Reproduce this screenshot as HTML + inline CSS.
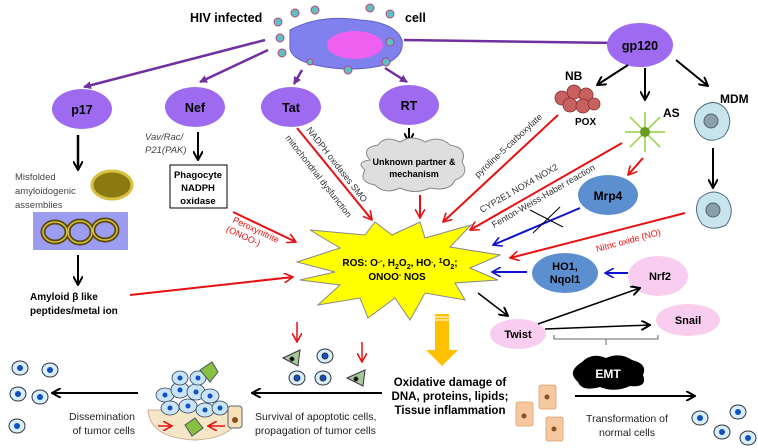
<!DOCTYPE html>
<html><head><meta charset="utf-8"><style>
html,body{margin:0;padding:0;background:#fff;}
svg{display:block;font-family:"Liberation Sans",Arial,sans-serif;}
.b{font-weight:bold;}
</style></head><body>
<svg width="758" height="448" viewBox="0 0 758 448" xmlns="http://www.w3.org/2000/svg">
<defs>
<marker id="ap" markerWidth="8" markerHeight="8" refX="7" refY="4" orient="auto" markerUnits="userSpaceOnUse"><path d="M0,0 L8,4 L0,8 z" fill="#7030a0"/></marker>
<marker id="ak" markerWidth="10" markerHeight="10" refX="9" refY="5" orient="auto" markerUnits="userSpaceOnUse"><path d="M0,0 L9,5 L0,10" fill="none" stroke="#000" stroke-width="2"/></marker>
<marker id="ar" markerWidth="10" markerHeight="10" refX="9" refY="5" orient="auto" markerUnits="userSpaceOnUse"><path d="M0,0 L9,5 L0,10" fill="none" stroke="#e81010" stroke-width="1.6"/></marker>
<marker id="ab" markerWidth="10" markerHeight="10" refX="9" refY="5" orient="auto" markerUnits="userSpaceOnUse"><path d="M0,0 L9,5 L0,10" fill="none" stroke="#1010d0" stroke-width="1.6"/></marker>
</defs>

<text x="190" y="22" class="b" font-size="12.5">HIV  infected</text>
<text x="405" y="22" class="b" font-size="12.5">cell</text>
<path d="M290,30 Q320,14 360,20 Q395,22 402,40 Q405,58 380,66 Q350,72 320,66 Q288,60 290,45 Z" fill="#8080ee" stroke="#6060c0"/>
<ellipse cx="355" cy="45" rx="28" ry="14" fill="#f060f0"/>
<g fill="#60c0c0" stroke="#c04080" stroke-width="1">
<circle cx="278" cy="22" r="4"/><circle cx="295" cy="13" r="4"/><circle cx="315" cy="10" r="4"/><circle cx="280" cy="38" r="4"/><circle cx="282" cy="53" r="4"/><circle cx="348" cy="70" r="4"/><circle cx="370" cy="8" r="4"/><circle cx="390" cy="14" r="4"/><circle cx="390" cy="42" r="4"/><circle cx="386" cy="62" r="4"/><circle cx="310" cy="62" r="3"/>
</g>

<g stroke="#7030a0" stroke-width="2.5" fill="none" marker-end="url(#ap)">
<line x1="265" y1="40" x2="84" y2="87"/>
<line x1="268" y1="50" x2="200" y2="82"/>
<line x1="302" y1="70" x2="294" y2="84"/>
<line x1="385" y1="68" x2="407" y2="82"/>
<line x1="404" y1="40" x2="617" y2="43"/>
</g>

<g fill="#9d6af0">
<ellipse cx="82" cy="109" rx="30" ry="20"/>
<ellipse cx="195" cy="107" rx="30" ry="20"/>
<ellipse cx="291" cy="107" rx="30" ry="20"/>
<ellipse cx="409" cy="105" rx="30" ry="20"/>
<ellipse cx="640" cy="45" rx="33" ry="22"/>
</g>
<g class="b" font-size="12.5" text-anchor="middle">
<text x="82" y="114">p17</text><text x="195" y="112">Nef</text><text x="291" y="112">Tat</text><text x="409" y="110">RT</text><text x="640" y="50">gp120</text>
</g>

<line x1="78" y1="135" x2="78" y2="170" stroke="#000" stroke-width="2.5" marker-end="url(#ak)"/>
<text font-size="9.5" fill="#444"><tspan x="15" y="180">Misfolded</tspan><tspan x="15" y="194">amyloidogenic</tspan><tspan x="15" y="208">assemblies</tspan></text>
<ellipse cx="112" cy="185" rx="20" ry="14" fill="#8a7a10" stroke="#d8c040" stroke-width="3"/>
<rect x="33" y="212" width="95" height="38" fill="#9c9cf0"/>
<g fill="none" stroke="#5a4a10" stroke-width="5"><ellipse cx="55" cy="232" rx="12" ry="10"/><ellipse cx="80" cy="232" rx="12" ry="11"/><ellipse cx="105" cy="230" rx="12" ry="10"/></g>
<g fill="none" stroke="#d8c040" stroke-width="1.5"><ellipse cx="55" cy="232" rx="12" ry="10"/><ellipse cx="80" cy="232" rx="12" ry="11"/><ellipse cx="105" cy="230" rx="12" ry="10"/></g>
<line x1="78" y1="255" x2="78" y2="285" stroke="#000" stroke-width="2" marker-end="url(#ak)"/>
<text class="b" font-size="10"><tspan x="30" y="300">Amyloid β like</tspan><tspan x="30" y="314">peptides/metal ion</tspan></text>
<line x1="130" y1="295" x2="293" y2="277" stroke="#e81010" stroke-width="2" marker-end="url(#ar)"/>

<text font-size="9.5" font-style="italic" fill="#444"><tspan x="145" y="140">Vav/Rac/</tspan><tspan x="145" y="153">P21(PAK)</tspan></text>
<line x1="198" y1="132" x2="198" y2="160" stroke="#000" stroke-width="2" marker-end="url(#ak)"/>
<rect x="170" y="165" width="57" height="43" fill="#fff" stroke="#000"/>
<text class="b" font-size="9.5" text-anchor="middle"><tspan x="198" y="178">Phagocyte</tspan><tspan x="198" y="191">NADPH</tspan><tspan x="198" y="204">oxidase</tspan></text>
<line x1="233" y1="212" x2="296" y2="242" stroke="#e81010" stroke-width="2" marker-end="url(#ar)"/>
<g transform="translate(232,222) rotate(25)"><text font-size="9" fill="#e81010"><tspan x="0" y="0">Peroxynitrite</tspan><tspan x="-2" y="11">(ONOO-)</tspan></text></g>

<line x1="297" y1="128" x2="372" y2="220" stroke="#e81010" stroke-width="2" marker-end="url(#ar)"/>
<g transform="translate(306,130) rotate(52)"><text font-size="9" fill="#333">NADPH oxidases  SMO</text></g>
<g transform="translate(285,138) rotate(52)"><text font-size="9" fill="#333">mitochondrial     dysfunction</text></g>

<line x1="409" y1="128" x2="409" y2="142" stroke="#000" stroke-width="2" marker-end="url(#ak)"/>
<path d="M370,160 Q360,148 378,145 Q385,135 400,142 Q412,134 425,142 Q440,135 450,145 Q468,148 462,162 Q470,175 455,180 Q450,192 430,188 Q415,195 400,188 Q385,195 375,185 Q358,182 365,170 Q355,162 370,160 Z" fill="#dedede" stroke="#888"/>
<text class="b" font-size="9" text-anchor="middle"><tspan x="414" y="165">Unknown partner &amp;</tspan><tspan x="414" y="177">mechanism</tspan></text>
<line x1="420" y1="195" x2="420" y2="218" stroke="#e81010" stroke-width="2" marker-end="url(#ar)"/>

<g stroke="#000" stroke-width="2" marker-end="url(#ak)">
<line x1="628" y1="65" x2="597" y2="85"/>
<line x1="645" y1="68" x2="645" y2="100"/>
<line x1="676" y1="60" x2="708" y2="86"/>
</g>
<text x="565" y="80" class="b" font-size="12">NB</text>
<g fill="#c86060" stroke="#803030" stroke-width="0.8">
<circle cx="562" cy="98" r="7"/><circle cx="574" cy="92" r="7"/><circle cx="586" cy="95" r="7"/><circle cx="570" cy="105" r="7"/><circle cx="583" cy="106" r="7"/><circle cx="594" cy="104" r="6"/>
</g>
<text x="575" y="125" class="b" font-size="10">POX</text>
<text x="663" y="117" class="b" font-size="12">AS</text>
<g stroke="#90d040" stroke-width="1.5"><line x1="625" y1="132" x2="665" y2="132"/><line x1="645" y1="112" x2="645" y2="152"/><line x1="630" y1="117" x2="660" y2="147"/><line x1="660" y1="117" x2="630" y2="147"/></g>
<circle cx="645" cy="132" r="5" fill="#6a9a20"/>
<text x="720" y="103" class="b" font-size="12">MDM</text>
<path d="M698,110 Q712,96 725,108 Q735,122 724,136 Q710,145 700,135 Q690,122 698,110 Z" fill="#c8e4ec" stroke="#507080"/>
<circle cx="711" cy="121" r="7" fill="#8aa0a8" stroke="#506070"/>
<line x1="713" y1="148" x2="713" y2="188" stroke="#000" stroke-width="2" marker-end="url(#ak)"/>
<path d="M700,198 Q714,186 727,198 Q736,212 726,225 Q712,232 702,224 Q692,210 700,198 Z" fill="#c8e4ec" stroke="#507080"/>
<circle cx="713" cy="210" r="7" fill="#8aa0a8" stroke="#506070"/>

<line x1="558" y1="115" x2="443" y2="222" stroke="#e81010" stroke-width="2" marker-end="url(#ar)"/>
<g transform="translate(478,178) rotate(-43)"><text font-size="9" fill="#333">pyroline-5-carboxylate</text></g>
<line x1="622" y1="143" x2="470" y2="230" stroke="#e81010" stroke-width="2" marker-end="url(#ar)"/>
<g transform="translate(482,213) rotate(-30)"><text font-size="9" fill="#333">CYP2E1        NOX4           NOX2</text></g>
<g transform="translate(494,228) rotate(-30)"><text font-size="9" fill="#333">Fenton-Weiss-Haber reaction</text></g>
<line x1="643" y1="158" x2="628" y2="175" stroke="#e81010" stroke-width="2" marker-end="url(#ar)"/>
<ellipse cx="608" cy="195" rx="30" ry="20" fill="#5b8fd0"/>
<text x="608" y="200" class="b" font-size="12" text-anchor="middle">Mrp4</text>
<line x1="580" y1="208" x2="493" y2="245" stroke="#1010d0" stroke-width="2" marker-end="url(#ab)"/>
<line x1="530" y1="210" x2="563" y2="227" stroke="#000" stroke-width="1"/><line x1="533" y1="233" x2="560" y2="207" stroke="#000" stroke-width="1"/>
<line x1="685" y1="213" x2="510" y2="258" stroke="#e81010" stroke-width="2" marker-end="url(#ar)"/>
<g transform="translate(597,252) rotate(-15)"><text font-size="9" fill="#e81010">Nitric oxide (NO)</text></g>

<path d="M297,262 L340,248 L310,230 L365,235 L375,222 L392,235 L420,222 L425,238 L471,225 L450,247 L500,255 L470,268 L498,280 L455,283 L465,300 L425,293 L410,320 L395,298 L368,318 L360,298 L318,305 L340,285 L300,280 L335,272 Z" fill="#ffff00" stroke="#888" stroke-width="1"/>
<text class="b" font-size="10" text-anchor="middle"><tspan x="400" y="266">ROS: O<tspan font-size="7" dy="-3">.-</tspan><tspan dy="3">, H</tspan><tspan font-size="7" dy="3">2</tspan><tspan dy="-3">O</tspan><tspan font-size="7" dy="3">2</tspan><tspan dy="-3">, HO</tspan><tspan font-size="7" dy="-3">.</tspan><tspan dy="3">, </tspan><tspan font-size="7" dy="-3">1</tspan><tspan dy="3">O</tspan><tspan font-size="7" dy="3">2</tspan><tspan dy="-3">;</tspan></tspan><tspan x="397" y="280">ONOO<tspan font-size="7" dy="-3">-</tspan><tspan dy="3">  NOS</tspan></tspan></text>

<ellipse cx="565" cy="273" rx="33" ry="20" fill="#5b8fd0"/>
<text class="b" font-size="11" text-anchor="middle"><tspan x="565" y="270">HO1,</tspan><tspan x="565" y="283">Nqol1</tspan></text>
<line x1="527" y1="272" x2="492" y2="272" stroke="#1010d0" stroke-width="2" marker-end="url(#ab)"/>
<line x1="628" y1="273" x2="605" y2="273" stroke="#1010d0" stroke-width="2" marker-end="url(#ab)"/>
<ellipse cx="658" cy="276" rx="30" ry="20" fill="#f8cdf0"/>
<text x="660" y="280" class="b" font-size="11" text-anchor="middle">Nrf2</text>
<line x1="478" y1="293" x2="508" y2="316" stroke="#000" stroke-width="1.5" marker-end="url(#ak)"/>
<ellipse cx="518" cy="334" rx="28" ry="15" fill="#f8cdf0"/>
<text x="518" y="338" class="b" font-size="11" text-anchor="middle">Twist</text>
<line x1="538" y1="324" x2="640" y2="288" stroke="#000" stroke-width="1.5" marker-end="url(#ak)"/>
<line x1="545" y1="329" x2="650" y2="325" stroke="#000" stroke-width="1.5" marker-end="url(#ak)"/>
<ellipse cx="688" cy="320" rx="32" ry="16" fill="#f8cdf0"/>
<text x="688" y="324" class="b" font-size="11" text-anchor="middle">Snail</text>
<path d="M554,335 L554,339 L658,339 L658,335 M606,339 L606,345" fill="none" stroke="#666" stroke-width="1"/>
<path d="M582,362 Q592,352 606,358 Q620,352 632,360 Q648,364 643,375 Q648,388 630,386 Q615,393 600,387 Q582,392 578,382 Q566,372 582,362 Z" fill="#000"/>
<text x="608" y="378" class="b" font-size="12" fill="#fff" text-anchor="middle">EMT</text>

<rect x="435" y="314" width="14" height="36" fill="#ffc000"/>
<line x1="435" y1="317" x2="449" y2="317" stroke="#fff" stroke-width="1"/>
<line x1="435" y1="320" x2="449" y2="320" stroke="#fff" stroke-width="1"/>
<path d="M426,350 L458,350 L442,366 Z" fill="#ffc000"/>
<text class="b" font-size="11.5" text-anchor="middle"><tspan x="450" y="386">Oxidative damage of</tspan><tspan x="450" y="400">DNA, proteins, lipids;</tspan><tspan x="450" y="414">Tissue inflammation</tspan></text>

<line x1="297" y1="322" x2="297" y2="342" stroke="#e81010" stroke-width="1.5" marker-end="url(#ar)"/>
<line x1="362" y1="342" x2="362" y2="362" stroke="#e81010" stroke-width="1.5" marker-end="url(#ar)"/>
<g stroke="#334" stroke-width="1">
<path d="M283,358 L300,350 L298,366 Z" fill="#a8c898"/><circle cx="292" cy="359" r="2" fill="#000"/>
<path d="M347,378 L365,370 L363,386 Z" fill="#a8c898"/><circle cx="356" cy="379" r="2" fill="#000"/>
<ellipse cx="325" cy="356" rx="8" ry="7" fill="#d8eef8"/><circle cx="325" cy="356" r="3" fill="#1050c0"/>
<ellipse cx="297" cy="378" rx="8" ry="7" fill="#d8eef8"/><circle cx="297" cy="378" r="3" fill="#1050c0"/>
<ellipse cx="323" cy="378" rx="8" ry="7" fill="#d8eef8"/><circle cx="323" cy="378" r="3" fill="#1050c0"/>
</g>
<line x1="382" y1="393" x2="252" y2="393" stroke="#000" stroke-width="2" marker-end="url(#ak)"/>
<text font-size="10.5" fill="#222"><tspan x="255" y="420">Survival  of apoptotic cells,</tspan><tspan x="255" y="434">propagation of tumor cells</tspan></text>

<path d="M148,410 Q150,438 195,440 Q238,438 240,410 Z" fill="#f6e6c8" stroke="#c8b090"/>
<g stroke="#345" stroke-width="0.8" fill="#c8e4f6">
<ellipse cx="165" cy="395" rx="9" ry="7"/><ellipse cx="180" cy="390" rx="9" ry="8"/><ellipse cx="196" cy="392" rx="9" ry="8"/><ellipse cx="210" cy="396" rx="9" ry="7"/><ellipse cx="170" cy="408" rx="9" ry="7"/><ellipse cx="188" cy="406" rx="9" ry="7"/><ellipse cx="205" cy="410" rx="9" ry="7"/><ellipse cx="180" cy="378" rx="8" ry="7"/><ellipse cx="198" cy="378" rx="8" ry="7"/><ellipse cx="220" cy="408" rx="8" ry="7"/>
</g>
<g fill="#1050c0"><circle cx="165" cy="395" r="2.5"/><circle cx="180" cy="390" r="2.5"/><circle cx="196" cy="392" r="2.5"/><circle cx="210" cy="396" r="2.5"/><circle cx="170" cy="408" r="2.5"/><circle cx="188" cy="406" r="2.5"/><circle cx="205" cy="410" r="2.5"/><circle cx="180" cy="378" r="2.5"/><circle cx="198" cy="378" r="2.5"/><circle cx="220" cy="408" r="2.5"/></g>
<path d="M200,370 L212,362 L218,372 L210,382 Z" fill="#8ac040" stroke="#456"/>
<path d="M185,425 L195,418 L203,428 L192,436 Z" fill="#8ac040" stroke="#456"/>
<rect x="228" y="406" width="14" height="22" rx="3" fill="#f8e0b8" stroke="#567"/><circle cx="235" cy="420" r="3" fill="#8a5020"/>
<line x1="158" y1="426" x2="172" y2="426" stroke="#e81010" stroke-width="1.5" marker-end="url(#ar)"/>
<line x1="225" y1="426" x2="208" y2="426" stroke="#e81010" stroke-width="1.5" marker-end="url(#ar)"/>

<line x1="138" y1="393" x2="52" y2="393" stroke="#000" stroke-width="2" marker-end="url(#ak)"/>
<text font-size="10.5" fill="#222" text-anchor="end"><tspan x="135" y="420">Dissemination</tspan><tspan x="135" y="434">of tumor cells</tspan></text>
<g stroke="#334" stroke-width="1" fill="#d8eef8">
<ellipse cx="20" cy="368" rx="8" ry="7"/><ellipse cx="50" cy="370" rx="8" ry="7"/><ellipse cx="18" cy="394" rx="8" ry="7"/><ellipse cx="40" cy="397" rx="8" ry="7"/><ellipse cx="17" cy="426" rx="8" ry="7"/>
<ellipse cx="700" cy="418" rx="8" ry="7"/><ellipse cx="738" cy="412" rx="8" ry="7"/><ellipse cx="722" cy="432" rx="8" ry="7"/><ellipse cx="748" cy="438" rx="8" ry="7"/>
</g>
<g fill="#1050c0"><circle cx="20" cy="368" r="3"/><circle cx="50" cy="370" r="3"/><circle cx="18" cy="394" r="3"/><circle cx="40" cy="397" r="3"/><circle cx="17" cy="426" r="3"/><circle cx="700" cy="418" r="3"/><circle cx="738" cy="412" r="3"/><circle cx="722" cy="432" r="3"/><circle cx="748" cy="438" r="3"/></g>

<g fill="#f6c8a0" stroke="#d8a070" stroke-width="0.8">
<rect x="516" y="402" width="17" height="24" rx="2"/><rect x="539" y="385" width="17" height="24" rx="2"/><rect x="546" y="417" width="17" height="24" rx="2"/>
</g>
<g fill="#8a5020"><circle cx="524" cy="416" r="2.5"/><circle cx="547" cy="397" r="2.5"/><circle cx="554" cy="429" r="2.5"/></g>
<line x1="575" y1="396" x2="695" y2="396" stroke="#000" stroke-width="2" marker-end="url(#ak)"/>
<text font-size="10.5" fill="#222" text-anchor="middle"><tspan x="627" y="422">Transformation of</tspan><tspan x="627" y="436">normal cells</tspan></text>
</svg>
</body></html>
